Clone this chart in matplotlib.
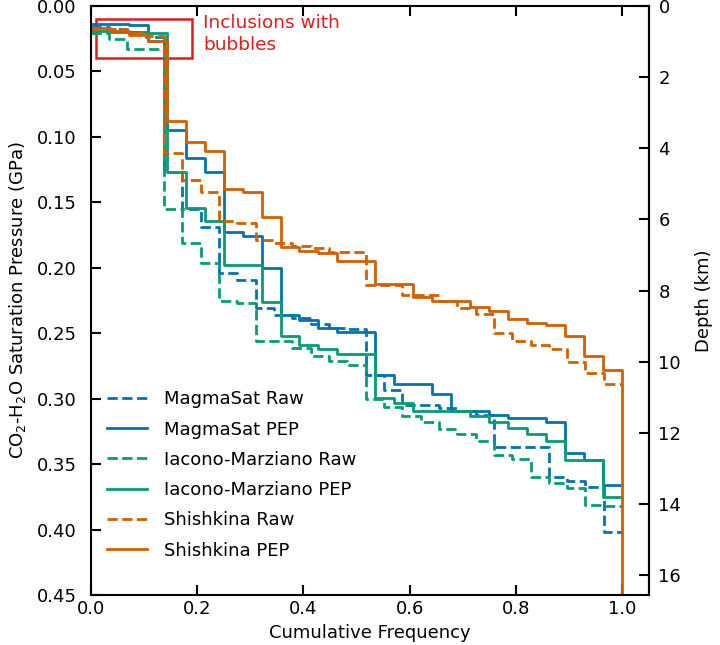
import numpy as np
import matplotlib
matplotlib.use('Agg')
import matplotlib.pyplot as plt
from matplotlib.patches import Rectangle

# Sorted saturation pressures (GPa).
# Each list ends with the final point plotted at cumulative frequency 1.0
magmasat_raw = [0.016, 0.018, 0.020, 0.024, 0.127, 0.155, 0.169, 0.204, 0.209, 0.231,
                0.236, 0.238, 0.243, 0.246, 0.247, 0.282, 0.293, 0.305, 0.305, 0.307,
                0.309, 0.312, 0.337, 0.337, 0.337, 0.360, 0.363, 0.367, 0.402, 0.402]
magmasat_pep = [0.014, 0.014, 0.015, 0.027, 0.095, 0.116, 0.127, 0.173, 0.176, 0.200,
                0.236, 0.240, 0.246, 0.249, 0.249, 0.282, 0.289, 0.289, 0.296, 0.309,
                0.309, 0.312, 0.315, 0.315, 0.318, 0.341, 0.347, 0.366, 0.366]
iacono_raw = [0.021, 0.025, 0.033, 0.033, 0.155, 0.181, 0.196, 0.225, 0.227, 0.256,
              0.256, 0.261, 0.267, 0.271, 0.274, 0.300, 0.306, 0.313, 0.318, 0.323,
              0.327, 0.332, 0.343, 0.346, 0.360, 0.364, 0.368, 0.381, 0.382, 0.382]
iacono_pep = [0.019, 0.020, 0.020, 0.021, 0.127, 0.154, 0.164, 0.198, 0.198, 0.226,
              0.252, 0.259, 0.262, 0.266, 0.266, 0.299, 0.303, 0.309, 0.309, 0.309,
              0.313, 0.318, 0.322, 0.327, 0.332, 0.347, 0.347, 0.375, 0.375]
shishkina_raw = [0.018, 0.018, 0.021, 0.023, 0.112, 0.133, 0.142, 0.164, 0.166, 0.179,
                 0.181, 0.183, 0.185, 0.188, 0.188, 0.213, 0.213, 0.221, 0.221, 0.225,
                 0.231, 0.235, 0.250, 0.256, 0.259, 0.262, 0.272, 0.280, 0.289, 0.289]
shishkina_pep = [0.017, 0.019, 0.022, 0.027, 0.088, 0.104, 0.111, 0.140, 0.142, 0.161,
                 0.184, 0.187, 0.189, 0.195, 0.195, 0.212, 0.212, 0.222, 0.225, 0.225,
                 0.230, 0.233, 0.239, 0.242, 0.244, 0.252, 0.267, 0.278, 0.480]

labels = ["MagmaSat Raw", "MagmaSat PEP", "Iacono-Marziano Raw",
          "Iacono-Marziano PEP", "Shishkina Raw", "Shishkina PEP"]
series = [magmasat_raw, magmasat_pep, iacono_raw, iacono_pep, shishkina_raw, shishkina_pep]
colors = ['#0173b2', '#0173b2', '#029e73', '#029e73', '#d55e00', '#d55e00']
styles = ['--', '-', '--', '-', '--', '-']

km_per_gpa = 36.8  # crustal density ~2.77 g/cc

plt.rcParams['font.family'] = 'DejaVu Sans'
plt.rcParams['font.size'] = 13

fig = plt.figure(figsize=(7.2, 6.45), dpi=100)
ax = fig.add_axes([0.126, 0.077, 0.775, 0.914])

for p, lab, c, ls in zip(series, labels, colors, styles):
    p = np.asarray(p)
    x = np.arange(len(p)) / (len(p) - 1)
    ax.step(x, p, where='post', color=c, ls=ls, lw=2, label=lab)

# box around the inclusions that contain bubbles
ax.add_patch(Rectangle((0.01, 0.01), 0.18, 0.03, fill=False, ec='#e41a1c', lw=1.8))
ax.text(0.212, 0.006, "Inclusions with\nbubbles", color='#e41a1c', va='top', ha='left',
        fontsize=13.3, linespacing=1.3)

ax.set_xlim(0, 1.05)
ax.set_ylim(0.45, 0)
ax.set_xticks([0.0, 0.2, 0.4, 0.6, 0.8, 1.0])
ax.set_yticks(np.arange(0, 0.451, 0.05))
ax.set_xlabel("Cumulative Frequency")
ax.set_ylabel("CO$_2$-H$_2$O Saturation Pressure (GPa)", labelpad=6)
ax.tick_params(direction='in', length=7, width=1.5, top=True, right=False)
ax.tick_params(axis='y', pad=10)
for s in ax.spines.values():
    s.set_linewidth(1.5)

sec = ax.secondary_yaxis('right', functions=(lambda p: p * km_per_gpa,
                                             lambda d: d / km_per_gpa))
sec.set_yticks(np.arange(0, 17, 2))
sec.set_ylabel("Depth (km)", labelpad=10)
sec.tick_params(direction='in', length=7, width=1.5, pad=7)
sec.spines['right'].set_linewidth(1.5)

ax.legend(loc='lower left', bbox_to_anchor=(0.0, 0.033), frameon=False,
          handlelength=2.2, handletextpad=0.95, labelspacing=0.68)

fig.savefig("out.png", dpi=100)
